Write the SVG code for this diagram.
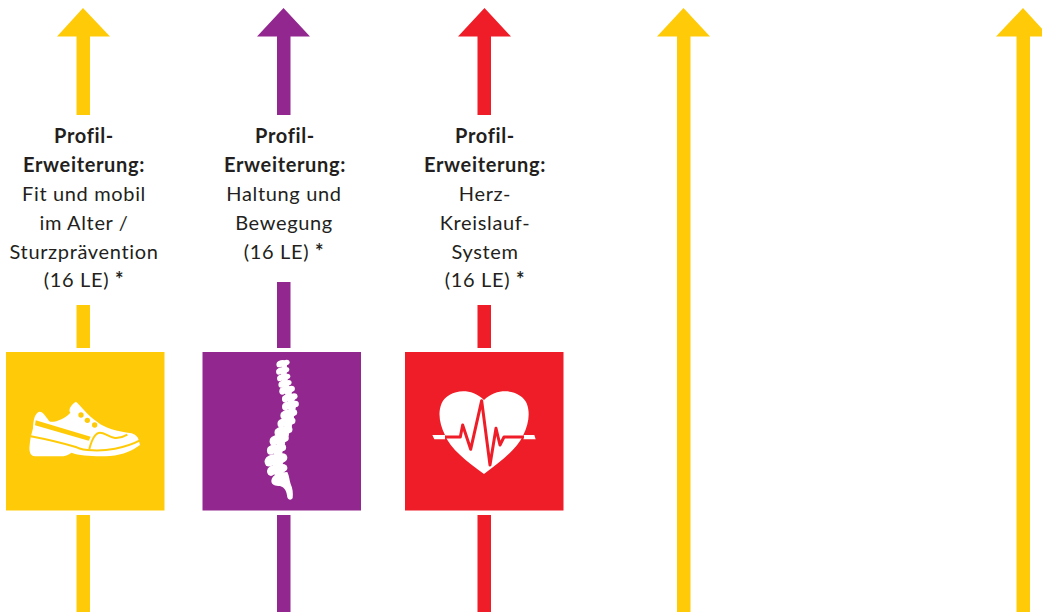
<svg xmlns="http://www.w3.org/2000/svg" width="1042" height="614" viewBox="0 0 1042 614">
<style>
.y{fill:#ffcb08}.p{fill:#92278f}.r{fill:#ef1d27}.w{fill:#fff}
text{font-family:"Lato","Liberation Sans",sans-serif;font-size:20px;letter-spacing:.65px;fill:#231f20;text-anchor:middle}
.b{font-weight:700}
</style>
<defs>
<g id="spv"><ellipse cx="0" cy="0" rx="15" ry="9"/><ellipse cx="-10" cy="3" rx="7" ry="8"/><ellipse cx="11" cy="-3" rx="8" ry="7"/><ellipse cx="4" cy="7" rx="8" ry="6"/></g>
</defs>
<rect width="1042" height="614" fill="#fff"/>
<g id="connectors">
<g class="y"><path d="M83 8L110 36.500H90V115H76.500V36.500H57Z"/><rect x="76.500" y="305" width="13.500" height="43"/><rect x="76.500" y="515" width="13.500" height="97"/></g>
<g class="p"><path d="M283.500 8L310 36.500H290.500V115H277V36.500H257Z"/><rect x="277" y="282" width="13.500" height="66"/><rect x="277" y="515" width="13.500" height="97"/></g>
<g class="r"><path d="M484.500 8L511 36.500H491V115H477.500V36.500H458Z"/><rect x="477.500" y="305" width="13.500" height="43"/><rect x="477.500" y="515" width="13.500" height="97"/></g>
<path class="y" d="M683.500 8L710 36.500H690.500V612H677V36.500H657Z"/>
<path class="y" d="M1023 8L1049 36.500H1030V612H1016.500V36.500H996Z"/>
</g>
<g id="node-fit">
<text class="b" x="84" y="143">Profil-</text><text class="b" x="84" y="172">Erweiterung:</text>
<text x="84" y="201">Fit und mobil</text><text x="84" y="230">im Alter /</text><text x="84" y="259">Sturzprävention</text><text x="84" y="287">(16 LE) <tspan class="b">*</tspan></text>
<rect class="y" x="6" y="352" width="158.500" height="158.500"/>
<g transform="translate(0 350) scale(.3333)">
<path class="w" d="M99 235C100 210 104 190 118 185C130 184 140 205 150 215C170 217 195 205 211 188C203 178 215 163 228 155C240 165 262 195 292 216C315 235 350 243 395 250C408 255 415 262 416 270L420 285C400 300 370 315 330 318C290 320 240 318 215 308C205 315 195 319 180 319H105C92 319 86 305 89 285C90 275 91 268 93 258Z"/>
<path d="M92 259C140 268 190 280 230 292C250 302 300 305 345 296C375 290 400 282 418 272" fill="none" stroke="#ffcb08" stroke-width="6"/>
<path class="y" d="M107 211L272 260L266 272L105 226Z"/>
<path d="M268 297C275 270 285 248 300 248C315 248 325 262 345 264C360 265 372 260 382 254" fill="none" stroke="#ffcb08" stroke-width="6"/>
<g class="y"><circle cx="243" cy="195" r="8"/><circle cx="262" cy="211" r="8"/><circle cx="284" cy="225" r="8"/></g>
</g>
</g>
<g id="node-haltung">
<text class="b" x="285" y="143">Profil-</text><text class="b" x="285" y="172">Erweiterung:</text>
<text x="284" y="201">Haltung und</text><text x="284" y="230">Bewegung</text><text x="284" y="259">(16 LE) <tspan class="b">*</tspan></text>
<rect class="p" x="202.500" y="352" width="158.500" height="158.500"/>
<g transform="translate(200 350) scale(.3333)" class="w">
<use href="#spv" transform="translate(248 40) scale(1.100)"/><use href="#spv" transform="translate(247 62) scale(1.100)"/><use href="#spv" transform="translate(250 82) scale(1.100)"/><use href="#spv" transform="translate(254 101) scale(1.100)"/>
<use href="#spv" transform="translate(260 120) scale(1.300)"/><use href="#spv" transform="translate(268 143) scale(1.300)"/><use href="#spv" transform="translate(270 166) scale(1.400)"/><use href="#spv" transform="translate(265 192) scale(1.400)"/>
<use href="#spv" transform="translate(258 217) scale(1.500)"/><use href="#spv" transform="translate(249 243) scale(1.500)"/><use href="#spv" transform="translate(236 269) scale(1.600)"/><use href="#spv" transform="translate(228 297) scale(1.600)"/><use href="#spv" transform="translate(226 329) scale(1.900)"/><use href="#spv" transform="translate(230 359) scale(1.700)"/>
<path d="M214 392C216 375 235 368 262 366C268 378 268 390 272 402C278 415 280 430 278 444C274 452 264 450 262 442C260 425 255 412 240 408C226 408 214 405 214 392Z"/>
</g>
</g>
<g id="node-herz">
<text class="b" x="485" y="143">Profil-</text><text class="b" x="485" y="172">Erweiterung:</text>
<text x="485" y="201">Herz-</text><text x="485" y="230">Kreislauf-</text><text x="485" y="259">System</text><text x="485" y="287">(16 LE) <tspan class="b">*</tspan></text>
<rect class="r" x="405" y="352" width="158.500" height="158.500"/>
<g transform="translate(400 350) scale(.3333)">
<path class="w" d="M252 372C200 335 150 295 135 255C120 225 112 190 125 160C140 125 205 105 252 150C300 105 365 125 380 160C392 190 385 225 370 255C350 300 300 335 252 372Z"/>
<path class="w" d="M97 255H135V268H103ZM370 255H403L407 268H370Z"/>
<path d="M135 261H181L188 225L212 298L245 152L270 345L288 235L300 285L312 261H372" fill="none" stroke="#ef1d27" stroke-width="9" stroke-linejoin="round"/>
</g>
</g>
</svg>
